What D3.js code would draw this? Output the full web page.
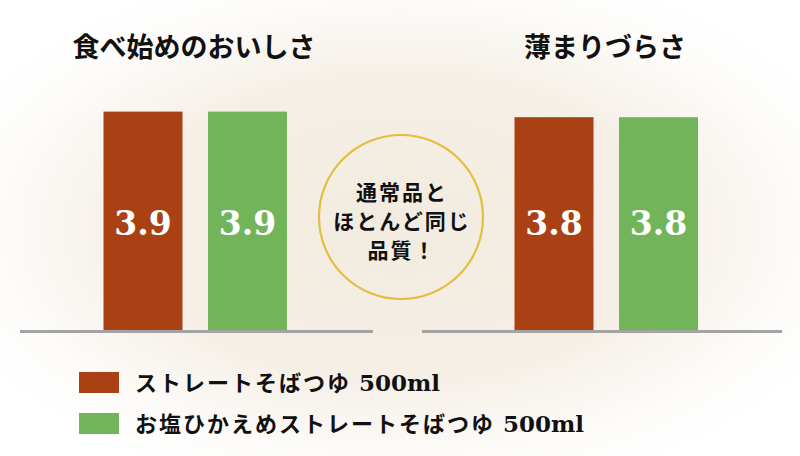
<!DOCTYPE html>
<html><head><meta charset="utf-8">
<script src="https://cdn.jsdelivr.net/npm/d3@7"></script>
<style>html,body{margin:0;padding:0;background:#fff;}svg{display:block;}</style>
</head><body>
<script>
const panels = ["食べ始めのおいしさ", "薄まりづらさ"];
const seriesNames = ["ストレートそばつゆ", "お塩ひかえめストレートそばつゆ"];
const seriesSize = "500ml";
const straightValues = [3.9, 3.8];
const lowSaltValues = [3.9, 3.8];
const seriesColors = ["#aa4114", "#72b45a"];
const centerText = ["通常品と", "ほとんど同じ", "品質！"];

const W = 800, H = 456;
const svg = d3.select("body").append("svg").attr("width", W).attr("height", H);
const defs = svg.append("defs");
const rg = defs.append("radialGradient").attr("id", "bg").attr("cx", "50%").attr("cy", "50%").attr("r", "60%");
rg.append("stop").attr("offset", "0%").attr("stop-color", "#f2ebdf");
rg.append("stop").attr("offset", "55%").attr("stop-color", "#f5efe6");
rg.append("stop").attr("offset", "85%").attr("stop-color", "#fdfcfa");
rg.append("stop").attr("offset", "100%").attr("stop-color", "#ffffff");
svg.append("rect").attr("width", W).attr("height", H).attr("fill", "url(#bg)");

const baseY = 330;
const y = d3.scaleLinear().domain([0, 3.85]).range([baseY, baseY - 215.6]);
const panelCenters = [194, 605];
const barW = 79;

const font = "'Noto Sans CJK JP', 'Noto Sans', sans-serif";
const serif = "'DejaVu Serif', 'Liberation Serif', serif";

// baselines
const lines = [[20, 373], [422, 782]];
svg.selectAll("line.base").data(lines).join("line")
  .attr("x1", d => d[0]).attr("x2", d => d[1])
  .attr("y1", baseY + 1.5).attr("y2", baseY + 1.5)
  .attr("stroke", "#a3a3a3").attr("stroke-width", 3);

panels.forEach((p, i) => {
  const cx = panelCenters[i];
  svg.append("text").attr("x", cx).attr("y", 57)
    .attr("text-anchor", "middle").attr("font-family", font)
    .attr("font-weight", 700).attr("font-size", 27).attr("fill", "#111")
    .text(p);
  const vals = [straightValues[i], lowSaltValues[i]];
  const xs = [cx - 90.5, cx + 14];
  vals.forEach((v, j) => {
    svg.append("rect").attr("x", xs[j]).attr("width", barW)
      .attr("y", y(v)).attr("height", baseY - y(v)).attr("fill", seriesColors[j]);
    svg.append("text").attr("x", xs[j] + barW / 2).attr("y", 235)
      .attr("text-anchor", "middle").attr("font-family", serif)
      .attr("font-weight", 700).attr("font-size", 33).attr("fill", "#fff")
      .text(d3.format(".1f")(v));
  });
});

// center circle
svg.append("circle").attr("cx", 401).attr("cy", 217).attr("r", 82)
  .attr("fill", "none").attr("stroke", "#e4be3e").attr("stroke-width", 2.2);
svg.selectAll("text.ct").data(centerText).join("text")
  .attr("x", 402).attr("y", (d, i) => 200 + i * 29)
  .attr("text-anchor", "middle").attr("font-family", font)
  .attr("font-weight", 700).attr("font-size", 21).attr("letter-spacing", 2).attr("fill", "#111")
  .text(d => d);

// legend
const lg = svg.append("g");
seriesNames.forEach((n, i) => {
  const yy = 372 + i * 41;
  lg.append("rect").attr("x", 79).attr("y", yy).attr("width", 40).attr("height", 21).attr("fill", seriesColors[i]);
  const t = lg.append("text").attr("x", 135).attr("y", yy + 19).attr("font-weight", 700).attr("fill", "#111");
  t.append("tspan").attr("font-family", font).attr("font-size", 22).attr("letter-spacing", 2).text(n);
  t.append("tspan").attr("font-family", serif).attr("font-size", 23).attr("dx", 8).text(seriesSize);
});
</script>
</body></html>
